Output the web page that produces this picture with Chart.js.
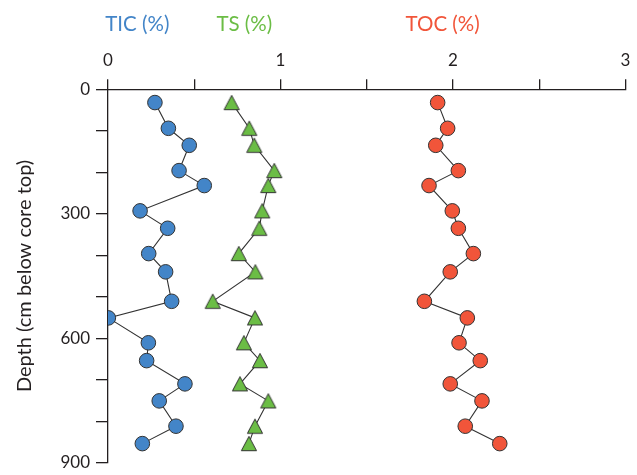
<!DOCTYPE html>
<html>
<head>
<meta charset="utf-8">
<script src="https://cdn.jsdelivr.net/npm/chart.js@4.4.1/dist/chart.umd.min.js"></script>
<style>
  html, body { margin: 0; padding: 0; background: #ffffff; }
  #wrap { width: 637px; height: 475px; position: relative; }
</style>
</head>
<body>
<div id="wrap"><canvas id="c" width="637" height="475"></canvas></div>
<script>
// ---- data ----
const depths = [32, 94, 135, 196, 232, 293, 335, 396, 440, 511, 551, 611, 654, 710, 751, 812, 854];
const ticValues = [0.272, 0.350, 0.471, 0.412, 0.558, 0.186, 0.346, 0.236, 0.334, 0.369, 0.002, 0.234, 0.224, 0.446, 0.297, 0.394, 0.199];
const tsValues  = [0.717, 0.819, 0.848, 0.964, 0.929, 0.894, 0.877, 0.758, 0.854, 0.607, 0.852, 0.788, 0.881, 0.765, 0.929, 0.852, 0.817];
const tocValues = [1.911, 1.969, 1.900, 2.031, 1.861, 1.996, 2.031, 2.118, 1.984, 1.834, 2.083, 2.035, 2.158, 1.984, 2.168, 2.071, 2.271];

const seriesTitles = ['TIC (%)', 'TS (%)', 'TOC (%)'];
const seriesTitleAt = [0.17, 0.79, 1.94];
const xLabelTicks = [0, 1, 2, 3];
const yLabelTicks = [0, 300, 600, 900];

const blue = '#4385c8', green = '#6bbd45', red = '#f1553a';
const ink = '#231f20';

function pts(vals) { return vals.map((v, i) => ({ x: v, y: depths[i] })); }

function triangleMarker(fill) {
  const c = document.createElement('canvas');
  c.width = 18; c.height = 17;
  const g = c.getContext('2d');
  g.beginPath();
  g.moveTo(9, 1.3);
  g.lineTo(16.6, 15.6);
  g.lineTo(1.4, 15.6);
  g.closePath();
  g.fillStyle = fill; g.fill();
  g.lineWidth = 1; g.strokeStyle = '#333'; g.stroke();
  return c;
}

const titlesPlugin = {
  id: 'seriesTitles',
  afterDraw(chart) {
    const ctx = chart.ctx, xs = chart.scales.x;
    ctx.save();
    ctx.font = '20.5px Lato';
    ctx.textAlign = 'center';
    ctx.textBaseline = 'middle';
    const cols = [blue, green, red];
    seriesTitles.forEach((t, i) => {
      ctx.fillStyle = cols[i];
      ctx.fillText(t, xs.getPixelForValue(seriesTitleAt[i]), 24);
    });
    ctx.restore();
  }
};

const lineStyle = { borderColor: '#333', borderWidth: 1.1, showLine: true, tension: 0, fill: false };

const chart = new Chart(document.getElementById('c'), {
  type: 'line',
  data: {
    datasets: [
      Object.assign({ label: 'TIC', data: pts(ticValues), pointStyle: 'circle', pointRadius: 7.3,
        pointBackgroundColor: blue, pointBorderColor: '#333', pointBorderWidth: 1 }, lineStyle),
      Object.assign({ label: 'TS', data: pts(tsValues), pointStyle: triangleMarker(green), pointRadius: 9,
        pointBackgroundColor: green, pointBorderColor: '#333', pointBorderWidth: 1 }, lineStyle),
      Object.assign({ label: 'TOC', data: pts(tocValues), pointStyle: 'circle', pointRadius: 7.3,
        pointBackgroundColor: red, pointBorderColor: '#333', pointBorderWidth: 1 }, lineStyle)
    ]
  },
  options: {
    responsive: false,
    animation: false,
    events: [],
    layout: { padding: { left: 0, top: 0, right: 11.5, bottom: 12.3 } },
    plugins: { legend: { display: false }, tooltip: { enabled: false } },
    scales: {
      x: {
        type: 'linear', position: 'top', min: 0, max: 3,
        afterFit(s) { s.height = 89.3; s.paddingLeft = 0; s.paddingRight = 0; },
        border: { display: true, color: ink, width: 1.3 },
        grid: { drawOnChartArea: false, drawTicks: true, tickLength: 10, color: ink, lineWidth: 1.3 },
        ticks: {
          stepSize: 0.5, autoSkip: false, maxRotation: 0, padding: 9,
          color: ink, font: { family: 'Lato', size: 17 },
          callback: v => xLabelTicks.includes(v) ? String(v) : ''
        }
      },
      y: {
        type: 'linear', reverse: true, min: 0, max: 900,
        afterFit(s) { s.width = 108; s.paddingTop = 0; s.paddingBottom = 0; },
        border: { display: true, color: ink, width: 1.3 },
        grid: { drawOnChartArea: false, drawTicks: true, tickLength: 12, color: ink, lineWidth: 1.3 },
        ticks: {
          stepSize: 100, autoSkip: false, padding: 6,
          color: ink, font: { family: 'Lato', size: 17 },
          callback: v => yLabelTicks.includes(v) ? String(v) : ''
        },
        title: {
          display: true, text: 'Depth (cm below core top)', color: ink,
          font: { family: 'Lato', size: 20 }, padding: { top: 13, bottom: 0 }
        }
      }
    }
  },
  plugins: [titlesPlugin]
});
</script>
</body>
</html>
